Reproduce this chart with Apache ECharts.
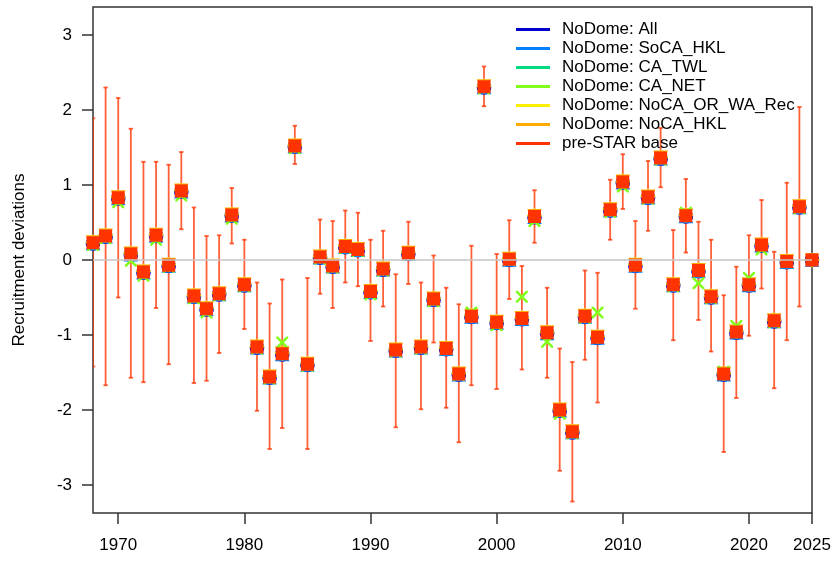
<!DOCTYPE html>
<html>
<head>
<meta charset="utf-8">
<script src="https://cdn.jsdelivr.net/npm/echarts@6/dist/echarts.min.js"></script>
<style>html,body{margin:0;padding:0;background:#fff;}#c{width:836px;height:561px;}</style>
</head>
<body>
<div id="c"></div>
<script>
const years = [1968,1969,1970,1971,1972,1973,1974,1975,1976,1977,1978,1979,1980,1981,1982,1983,1984,1985,1986,1987,1988,1989,1990,1991,1992,1993,1994,1995,1996,1997,1998,1999,2000,2001,2002,2003,2004,2005,2006,2007,2008,2009,2010,2011,2012,2013,2014,2015,2016,2017,2018,2019,2020,2021,2022,2023,2024,2025];

const preStarBase = [0.23,0.32,0.83,0.08,-0.16,0.33,-0.07,0.92,-0.48,-0.65,-0.45,0.60,-0.33,-1.16,-1.56,-1.25,1.52,-1.39,0.04,-0.08,0.18,0.14,-0.42,-0.12,-1.20,0.09,-1.16,-0.52,-1.18,-1.52,-0.75,2.31,-0.83,0.01,-0.78,0.58,-0.97,-2.00,-2.29,-0.75,-1.03,0.67,1.04,-0.07,0.84,1.36,-0.33,0.59,-0.14,-0.49,-1.52,-0.96,-0.33,0.20,-0.81,-0.02,0.71,0.00];
const baseUpper = [1.89,2.30,2.16,1.75,1.31,1.31,1.27,1.44,0.70,0.32,0.33,0.96,0.27,-0.30,-0.58,-0.26,1.79,-0.24,0.54,0.52,0.66,0.63,0.27,0.39,-0.19,0.51,-0.30,0.06,-0.37,-0.59,0.19,2.58,0.08,0.53,-0.08,0.93,-0.37,-1.18,-1.36,-0.14,-0.17,1.07,1.41,0.52,1.32,1.76,0.40,1.08,0.51,0.27,-0.47,-0.09,0.33,0.80,0.11,1.03,2.04,null];
const baseLower = [-1.42,-1.67,-0.50,-1.57,-1.63,-0.64,-1.39,0.41,-1.64,-1.61,-1.24,0.22,-0.92,-2.01,-2.52,-2.24,1.28,-2.52,-0.45,-0.64,-0.30,-0.35,-1.08,-0.62,-2.23,-0.32,-1.99,-1.10,-1.97,-2.43,-1.67,2.05,-1.72,-0.52,-1.46,0.23,-1.57,-2.81,-3.22,-1.33,-1.90,0.27,0.68,-0.65,0.39,0.97,-1.07,0.10,-0.80,-1.22,-2.56,-1.84,-1.01,-0.38,-1.71,-1.07,-0.62,null];

const noDomeAll = [0.22,0.31,0.82,0.07,-0.17,0.32,-0.08,0.91,-0.49,-0.66,-0.46,0.59,-0.34,-1.17,-1.57,-1.26,1.51,-1.40,0.03,-0.09,0.17,0.13,-0.43,-0.13,-1.21,0.08,-1.17,-0.53,-1.19,-1.53,-0.76,2.30,-0.84,0.00,-0.79,0.57,-0.98,-2.01,-2.30,-0.76,-1.04,0.66,1.03,-0.08,0.83,1.35,-0.34,0.58,-0.15,-0.50,-1.53,-0.97,-0.34,0.19,-0.82,-0.03,0.70,0.00];
const noDomeSoCA = [0.22,0.31,0.82,0.07,-0.17,0.32,-0.08,0.91,-0.49,-0.66,-0.46,0.59,-0.34,-1.17,-1.57,-1.26,1.51,-1.40,0.03,-0.09,0.17,0.13,-0.43,-0.13,-1.21,0.08,-1.17,-0.53,-1.19,-1.53,-0.76,2.30,-0.84,0.00,-0.79,0.57,-0.98,-2.01,-2.30,-0.76,-1.04,0.66,1.03,-0.08,0.83,1.35,-0.34,0.58,-0.15,-0.50,-1.53,-0.97,-0.34,0.19,-0.82,-0.03,0.70,0.00];
const noDomeCATWL = [0.23,0.32,0.82,0.07,-0.17,0.32,-0.07,0.91,-0.49,-0.66,-0.45,0.59,-0.33,-1.16,-1.56,-1.25,1.51,-1.39,0.04,-0.08,0.18,0.14,-0.42,-0.12,-1.20,0.09,-1.16,-0.52,-1.18,-1.52,-0.75,2.31,-0.83,0.01,-0.78,0.57,-0.97,-2.00,-2.29,-0.75,-1.03,0.67,1.03,-0.07,0.84,1.36,-0.33,0.59,-0.14,-0.49,-1.52,-0.96,-0.33,0.20,-0.81,-0.02,0.71,0.00];
const noDomeCANET = [0.20,0.29,0.77,-0.01,-0.21,0.27,-0.09,0.86,-0.51,-0.70,-0.47,0.55,-0.35,-1.18,-1.58,-1.10,1.49,-1.41,0.02,-0.10,0.16,0.12,-0.46,-0.14,-1.22,0.07,-1.18,-0.55,-1.19,-1.53,-0.70,2.29,-0.87,0.00,-0.49,0.52,-1.09,-2.05,-2.31,-0.77,-0.70,0.64,0.98,-0.08,0.82,1.34,-0.35,0.63,-0.31,-0.51,-1.49,-0.88,-0.24,0.14,-0.83,-0.03,0.69,0.00];
const noDomeNoCAORWA = [0.24,0.33,0.84,0.09,-0.15,0.34,-0.06,0.93,-0.47,-0.64,-0.44,0.61,-0.32,-1.15,-1.55,-1.24,1.53,-1.38,0.05,-0.07,0.19,0.15,-0.41,-0.11,-1.19,0.10,-1.15,-0.51,-1.17,-1.51,-0.74,2.32,-0.82,0.02,-0.77,0.59,-0.96,-1.99,-2.28,-0.74,-1.02,0.68,1.05,-0.06,0.85,1.37,-0.32,0.60,-0.13,-0.48,-1.51,-0.95,-0.32,0.21,-0.80,-0.01,0.72,0.00];
const noDomeNoCAHKL = [0.24,0.33,0.84,0.09,-0.15,0.34,-0.06,0.93,-0.47,-0.64,-0.44,0.61,-0.32,-1.15,-1.55,-1.24,1.53,-1.38,0.05,-0.07,0.19,0.15,-0.41,-0.11,-1.19,0.10,-1.15,-0.51,-1.17,-1.51,-0.74,2.32,-0.82,0.02,-0.77,0.59,-0.96,-1.99,-2.28,-0.74,-1.02,0.68,1.05,-0.06,0.85,1.37,-0.32,0.60,-0.13,-0.48,-1.51,-0.95,-0.32,0.21,-0.80,-0.01,0.72,0.00];

const xTicks = [1970,1980,1990,2000,2010,2020,2025];
const yTicks = [-3,-2,-1,0,1,2,3];

const seriesNames = ['NoDome: All','NoDome: SoCA_HKL','NoDome: CA_TWL','NoDome: CA_NET','NoDome: NoCA_OR_WA_Rec','NoDome: NoCA_HKL','pre-STAR base'];
const seriesColors = ['#0000CB','#0081FF','#02DA81','#80FE1A','#FDEE02','#FFAB00','#FF3300'];

const FONT = 'Liberation Sans, Arial, sans-serif';
const pair = (vals) => years.map((y, i) => [y, vals[i]]);

const xPath = 'path://M0,0 L3,0 L10,7 L17,0 L20,0 L20,3 L13,10 L20,17 L20,20 L17,20 L10,13 L3,20 L0,20 L0,17 L7,10 L0,3 Z';
const plusPath = 'path://M8.5,0 L11.5,0 L11.5,8.5 L20,8.5 L20,11.5 L11.5,11.5 L11.5,20 L8.5,20 L8.5,11.5 L0,11.5 L0,8.5 L8.5,8.5 Z';

const hollow = (c) => ({ color: 'rgba(0,0,0,0)', borderColor: c, borderWidth: 1.6, opacity: 1 });

const errData = years.map((y, i) => [y, baseLower[i], baseUpper[i]]).filter(d => d[1] !== null);

const option = {
  animation: false,
  backgroundColor: '#ffffff',
  grid: { left: 93, right: 24, top: 7, bottom: 48, show: true, borderColor: '#333', borderWidth: 1.5, backgroundColor: 'transparent' },
  xAxis: {
    type: 'value', min: 1968, max: 2025,
    axisLine: { show: false, onZero: false },
    axisTick: { show: true, length: 11, customValues: xTicks, lineStyle: { color: '#333', width: 1.5 } },
    axisLabel: { customValues: xTicks, fontSize: 17, color: '#000', margin: 24, fontFamily: FONT, formatter: v => String(v) },
    splitLine: { show: false }
  },
  yAxis: {
    type: 'value', min: -3.373, max: 3.373,
    name: 'Recruitment deviations', nameLocation: 'middle', nameRotate: 90, nameGap: 65,
    nameTextStyle: { fontSize: 17, color: '#000', fontFamily: FONT },
    axisLine: { show: false, onZero: false },
    axisTick: { show: true, length: 11, customValues: yTicks, lineStyle: { color: '#333', width: 1.5 } },
    axisLabel: { customValues: yTicks, fontSize: 17, color: '#000', margin: 21, fontFamily: FONT, formatter: v => String(v) },
    splitLine: { show: false }
  },
  legend: {
    orient: 'vertical', left: 511, top: 16,
    icon: 'rect', itemWidth: 34, itemHeight: 3, itemGap: 2,
    selectedMode: false,
    textStyle: { fontSize: 17, color: '#000', fontFamily: FONT, lineHeight: 17, padding: [0, 0, 0, 7] },
    data: seriesNames.map((n, i) => ({ name: n, itemStyle: { color: seriesColors[i], borderWidth: 0, opacity: 1 } }))
  },
  series: [
    {
      type: 'custom', name: 'errbars', z: 1, clip: true,
      encode: { x: 0, y: [1, 2] },
      data: errData,
      renderItem: function (params, api) {
        const x = api.value(0);
        const lo = api.coord([x, api.value(1)]);
        const hi = api.coord([x, api.value(2)]);
        const w = 2.2;
        const st = { stroke: 'rgba(255,51,0,0.78)', lineWidth: 1.8 };
        return { type: 'group', children: [
          { type: 'line', shape: { x1: lo[0], y1: lo[1], x2: hi[0], y2: hi[1] }, style: st },
          { type: 'line', shape: { x1: lo[0] - w, y1: lo[1], x2: lo[0] + w, y2: lo[1] }, style: st },
          { type: 'line', shape: { x1: hi[0] - w, y1: hi[1], x2: hi[0] + w, y2: hi[1] }, style: st }
        ] };
      },
      markLine: {
        silent: true, symbol: 'none', label: { show: false },
        lineStyle: { color: '#c4c4c4', width: 1.6, type: 'solid' },
        data: [{ yAxis: 0 }]
      }
    },
    { type: 'scatter', name: seriesNames[0], z: 2, symbol: 'circle', symbolSize: 13, itemStyle: hollow(seriesColors[0]), data: pair(noDomeAll) },
    { type: 'scatter', name: seriesNames[1], z: 2, symbol: 'triangle', symbolSize: 12, itemStyle: hollow(seriesColors[1]), data: pair(noDomeSoCA) },
    { type: 'scatter', name: seriesNames[2], z: 2, symbol: plusPath, symbolSize: 13, itemStyle: { color: seriesColors[2], opacity: 1 }, data: pair(noDomeCATWL) },
    { type: 'scatter', name: seriesNames[4], z: 2, symbol: 'diamond', symbolSize: 13, itemStyle: hollow(seriesColors[4]), data: pair(noDomeNoCAORWA) },
    { type: 'scatter', name: seriesNames[5], z: 2, symbol: 'triangle', symbolRotate: 180, symbolSize: 12, itemStyle: hollow(seriesColors[5]), data: pair(noDomeNoCAHKL) },
    { type: 'scatter', name: seriesNames[3], z: 3, symbol: xPath, symbolSize: 12, itemStyle: { color: seriesColors[3], opacity: 1 }, data: pair(noDomeCANET) },
    { type: 'scatter', name: seriesNames[6], z: 4, symbol: 'rect', symbolSize: 13, itemStyle: { color: seriesColors[6], opacity: 1 }, data: pair(preStarBase) }
  ]
};

const chart = echarts.init(document.getElementById('c'), null, { renderer: 'canvas' });
chart.setOption(option);
</script>
</body>
</html>
